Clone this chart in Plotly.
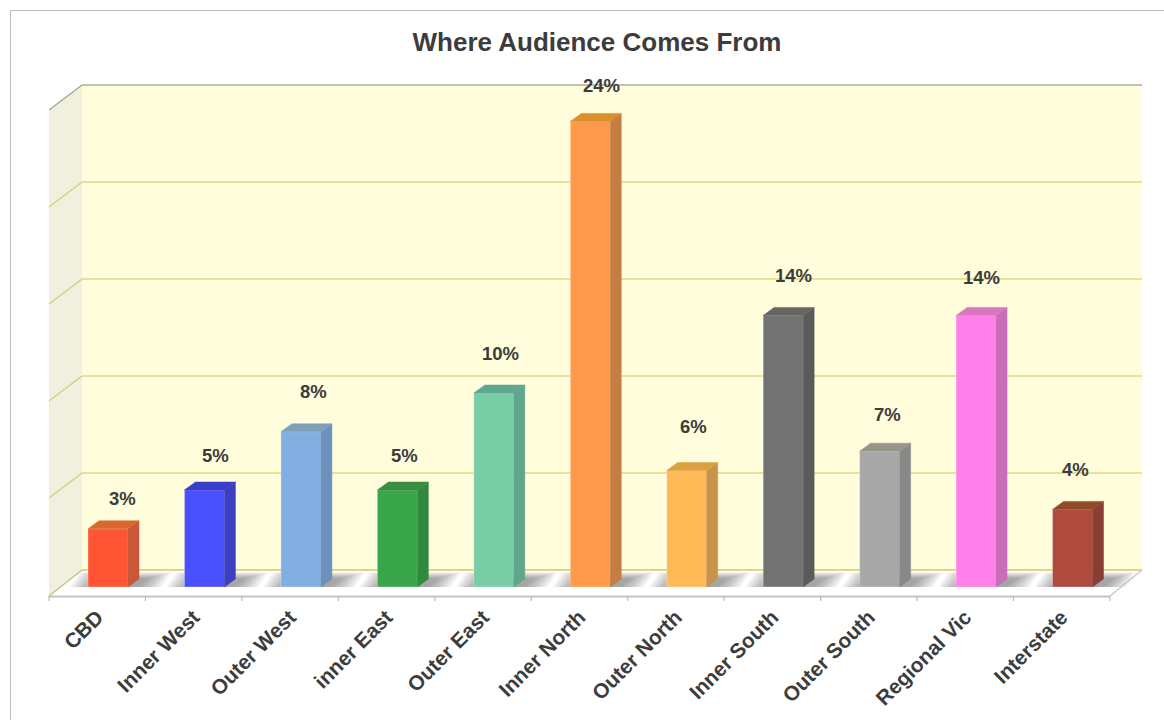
import plotly.graph_objects as go

categories = ["CBD", "Inner West", "Outer West", "inner East", "Outer East", "Inner North",
              "Outer North", "Inner South", "Outer South", "Regional Vic", "Interstate"]
values = [3, 5, 8, 5, 10, 24, 6, 14, 7, 14, 4]
labels = ["3%", "5%", "8%", "5%", "10%", "24%", "6%", "14%", "7%", "14%", "4%"]

front_colors = ["#FF5535", "#4B50FF", "#82AEE2", "#39A64B", "#78CDA6", "#FF9A4C",
                "#FFB957", "#727272", "#A8A8A8", "#FF80E8", "#AE4A3E"]
side_colors = ["#C9573A", "#3C40C0", "#6A92BC", "#2F8A3E", "#5FA68A", "#C47D42",
               "#C8934A", "#5A5A5A", "#888888", "#C96EB8", "#8A3D33"]
top_colors = ["#D9682F", "#3A3FC8", "#7FA0B8", "#3A8F3E", "#5FA890", "#D98E30",
              "#DDA040", "#666660", "#98948A", "#D878C0", "#8F4A28"]
label_dx = [14, 11, 13, 7, 7, 11, 7, 10, 8, 5, 3]
label_dy = [30, 35, 40, 35, 40, 36, 44, 40, 37, 38, 40]

# pixel geometry of the chart box
L, R, T, B = 49, 1142, 85, 597
W, H = 1164, 720
STEP_X, X0_PX = 96.45, 97.2
UNIT_Y, BASE_PX = 19.4, 587
BAR_W_PX, SHIFT_PX, DX, DY = 40, 10.8, 11, 8


def dx_units(px):
    return px / STEP_X


def dy_units(px):
    return px / UNIT_Y


def xdata(px):
    return (px - X0_PX) / STEP_X


def ydata(py):
    return (BASE_PX - py) / UNIT_Y


def xp(px):
    return (px - L) / (R - L)


def yp(py):
    return (B - py) / (B - T)


def poly(pts, fill, line=None, lw=0, layer="below"):
    d = "M " + " L ".join(f"{xp(a):.5f},{yp(b):.5f}" for a, b in pts) + " Z"
    return dict(type="path", path=d, xref="paper", yref="paper", fillcolor=fill,
                line=dict(color=line or "rgba(0,0,0,0)", width=lw), layer=layer)


def seg(x0, y0, x1, y1, color, w=1.5):
    return dict(type="line", xref="paper", yref="paper", x0=xp(x0), y0=yp(y0), x1=xp(x1), y1=yp(y1),
                line=dict(color=color, width=w), layer="below")


shapes = []
# outer frame
shapes.append(dict(type="rect", xref="paper", yref="paper", x0=xp(10.5), y0=yp(760), x1=xp(1200), y1=yp(10.5),
                   line=dict(color="#BDBDBD", width=1), fillcolor="rgba(0,0,0,0)", layer="below"))
# walls and floor
shapes.append(poly([(82, 85), (1142, 85), (1142, 570), (82, 570)], "#FFFDDC"))
shapes.append(poly([(49, 110), (82, 85), (82, 570), (49, 596)], "#F1F0DE"))
shapes.append(poly([(49, 596), (82, 570), (1142, 570), (1110, 596)], "#FFFFFF"))
# floor shadows: nested translucent layers around each bar
for i in range(len(values)):
    c = X0_PX + STEP_X * i + SHIFT_PX
    for s in range(16):
        shapes.append(poly([(c - 38 + 1.3 * s, 587), (c - 28 + 1.3 * s, 572 + 0.45 * s),
                            (c + 64 - 1.6 * s, 572 + 0.45 * s), (c + 54 - 1.6 * s, 587)],
                           "rgba(70,70,70,0.04)"))
for py in [473, 376, 279, 182]:
    shapes.append(seg(82, py, 1142, py, "#E6E296", 2))
    shapes.append(seg(49, py + 25, 82, py, "#D4D07E", 1.5))
shapes.append(seg(82, 85, 1142, 85, "#C4C2AE", 2))
shapes.append(seg(49, 110, 82, 85, "#A9A88E", 1.5))
shapes.append(seg(82, 570, 1142, 570, "#CFC86A", 1.5))
shapes.append(seg(49, 596, 82, 570, "#C6C47E", 1.5))
shapes.append(seg(1110, 596, 1142, 570, "#C4C4C4", 1.2))
shapes.append(seg(49, 596.5, 1110, 596.5, "#C4C4C4", 2))
for k in range(12):
    px = L + STEP_X * k
    shapes.append(seg(px, 596, px, 601, "#BBBBBB", 1.2))

fig = go.Figure()
xs = [i + dx_units(SHIFT_PX) for i in range(len(values))]
fig.add_trace(go.Bar(x=xs, y=values, width=dx_units(BAR_W_PX),
                     marker=dict(color=front_colors, line=dict(color="rgba(255,255,255,0.3)", width=1)),
                     hoverinfo="skip", showlegend=False))

hw, ddx, ddy = dx_units(BAR_W_PX) / 2, dx_units(DX), dy_units(DY)
for x, v, sc, tc in zip(xs, values, side_colors, top_colors):
    fig.add_trace(go.Scatter(x=[x + hw, x + hw + ddx, x + hw + ddx, x + hw, x + hw],
                             y=[0, ddy, v + ddy, v, 0], mode="lines", fill="toself",
                             fillcolor=sc, line=dict(color=sc, width=0.5),
                             hoverinfo="skip", showlegend=False))
    fig.add_trace(go.Scatter(x=[x - hw, x - hw + ddx, x + hw + ddx, x + hw, x - hw],
                             y=[v, v + ddy, v + ddy, v, v], mode="lines", fill="toself",
                             fillcolor=tc, line=dict(color=tc, width=0.5),
                             hoverinfo="skip", showlegend=False))

annotations = [dict(x=x, y=v, xref="x", yref="y", text=t, showarrow=False, xshift=dx_, yshift=dy_,
                    xanchor="center", yanchor="middle",
                    font=dict(family="Liberation Sans", size=18.5, color="#3C3C3C", weight="bold"))
               for x, v, t, dx_, dy_ in zip(xs, values, labels, label_dx, label_dy)]

fig.update_layout(
    width=W, height=H, template="none", autosize=False,
    margin=dict(l=L, r=W - R, t=T, b=H - B, pad=0, autoexpand=False),
    paper_bgcolor="white", plot_bgcolor="rgba(0,0,0,0)", showlegend=False,
    title=dict(text="<b>Where Audience Comes From</b>", x=597 / W, xanchor="center", y=1 - 42 / H,
               yanchor="middle", font=dict(family="Liberation Sans", size=26, color="#3C3C3C")),
    xaxis=dict(range=[xdata(L), xdata(R)], tickmode="array", tickvals=list(range(len(categories))),
               ticktext=categories, tickangle=-45, showgrid=False, zeroline=False, showline=False,
               ticks="", ticklabelstandoff=3,
               tickfont=dict(family="Liberation Sans", size=20.8, color="#3C3C3C", weight="bold")),
    yaxis=dict(range=[ydata(B), ydata(T)], visible=False, showgrid=False, zeroline=False),
    shapes=shapes, annotations=annotations,
)

fig.write_html("out.html", config={"displayModeBar": False},
               post_script="document.body.style.margin='0';document.body.style.overflow='hidden';")
